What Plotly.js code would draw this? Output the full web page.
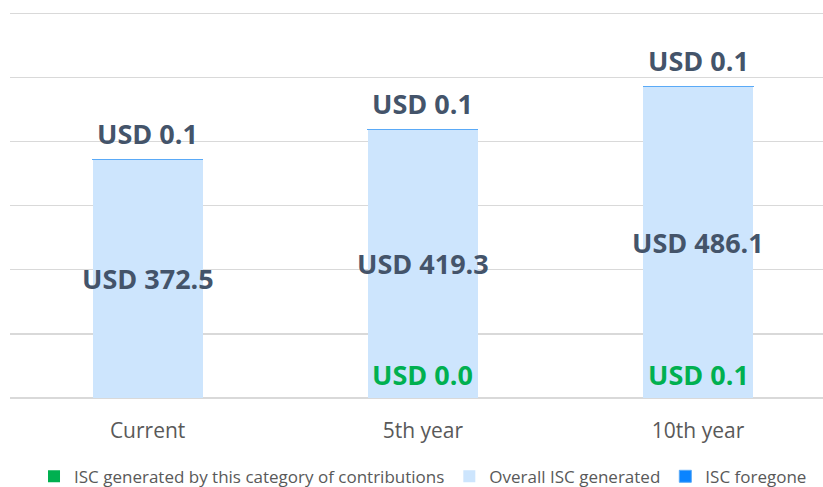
<!DOCTYPE html>
<html>
<head>
<meta charset="utf-8">
<script src="https://cdn.plot.ly/plotly-3.0.1.min.js"></script>
<style>html,body{margin:0;padding:0;background:#fff;}#chart{width:823px;height:487px;}</style>
</head>
<body>
<div id="chart"></div>
<script>
const categories = ["Current", "5th year", "10th year"];
const generatedThisCategory = [null, 0.0, 0.1];
const overallGenerated = [372.5, 419.3, 486.1];
const foregone = [0.1, 0.1, 0.1];
const seriesNames = ["ISC generated by this category of contributions", "Overall ISC generated", "ISC foregone"];

const fmt = v => "USD " + v.toFixed(1);
const FONT = "Open Sans, sans-serif";

const traces = [
  {type: "bar", name: seriesNames[0], x: categories, y: generatedThisCategory,
   marker: {color: "#00b050"}, hoverinfo: "skip"},
  {type: "bar", name: seriesNames[1], x: categories, y: overallGenerated,
   marker: {color: "#cde5fd"}, hoverinfo: "skip"},
  {type: "bar", name: seriesNames[2], x: categories, y: foregone,
   marker: {color: "#0a84ff", line: {color: "#5aaaf7", width: 1}}, hoverinfo: "skip"}
];

const annotations = [];
categories.forEach((c, i) => {
  const base = (generatedThisCategory[i] || 0);
  const total = base + overallGenerated[i] + foregone[i];
  annotations.push({x: c, y: base + overallGenerated[i] / 2, xref: "x", yref: "y",
    text: "<b>" + fmt(overallGenerated[i]) + "</b>", showarrow: false,
    font: {family: FONT, size: 27, color: "#44546a"}});
  annotations.push({x: c, y: total, xref: "x", yref: "y", yanchor: "bottom", yshift: 5,
    text: "<b>" + fmt(foregone[i]) + "</b>", showarrow: false,
    font: {family: FONT, size: 27, color: "#44546a"}});
  if (generatedThisCategory[i] !== null) {
    annotations.push({x: c, y: 0, xref: "x", yref: "y", yanchor: "bottom", yshift: 3,
      text: "<b>" + fmt(generatedThisCategory[i]) + "</b>", showarrow: false,
      font: {family: FONT, size: 27, color: "#00b050"}});
  }
});

const layout = {
  width: 823, height: 487,
  margin: {l: 10, r: 0, t: 10, b: 88.5},
  barmode: "stack",
  bargap: 0.6,
  showlegend: true,
  paper_bgcolor: "#fff", plot_bgcolor: "#fff",
  font: {family: FONT, color: "#595959"},
  xaxis: {type: "category", range: [-0.5, 2.454], showgrid: false, zeroline: false,
    showline: false, ticks: "", ticklabelstandoff: 18,
    tickfont: {family: FONT, size: 21, color: "#595959"}, fixedrange: true},
  yaxis: {range: [0, 605], tickvals: [0, 100, 200, 300, 400, 500, 600], showticklabels: false, showgrid: true,
    gridcolor: "#d9d9d9", gridwidth: 1.3, zeroline: true, zerolinecolor: "#d9d9d9",
    zerolinewidth: 1.3, showline: false, fixedrange: true},
  legend: {orientation: "h", x: 0.508, xanchor: "center", xref: "paper",
    y: 0.058, yanchor: "top", yref: "container",
    traceorder: "normal", itemwidth: 30,
    font: {family: FONT, size: 17, color: "#595959"}},
  annotations: annotations
};

Plotly.newPlot("chart", traces, layout, {displayModeBar: false, staticPlot: true});
</script>
</body>
</html>
